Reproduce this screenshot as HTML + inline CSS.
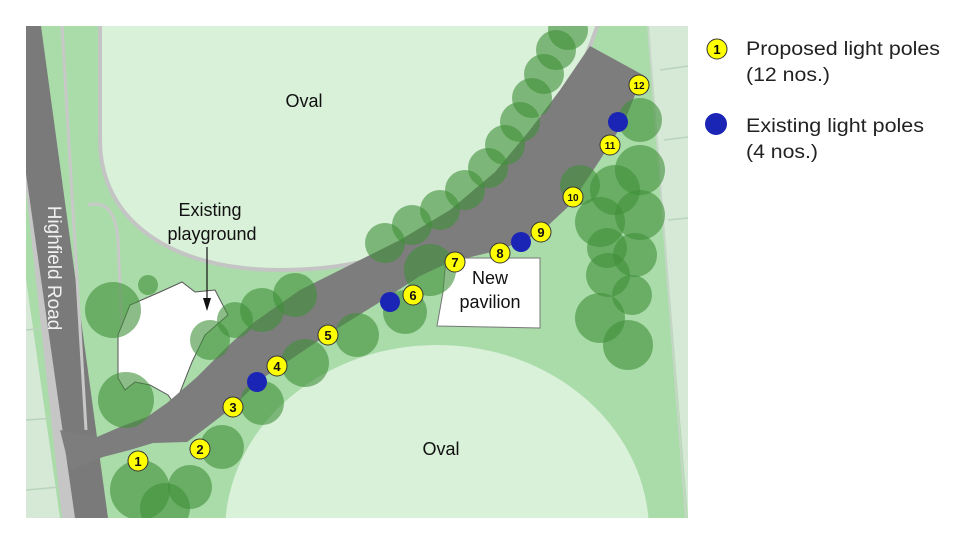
<!DOCTYPE html>
<html style="overflow:hidden;height:540px"><head><meta charset="utf-8"><style>
html,body{margin:0;padding:0}
body{background:#fff;width:960px;height:540px;overflow:hidden;font-family:"Liberation Sans",sans-serif}
svg{display:block}
</style></head><body>
<svg width="960" height="540" viewBox="0 0 960 540" xmlns="http://www.w3.org/2000/svg" font-family="Liberation Sans, sans-serif">
<defs><clipPath id="c"><rect x="26" y="26" width="662" height="492"/></clipPath></defs>
<g clip-path="url(#c)">
<rect x="26" y="26" width="662" height="492" fill="#aadcaa"/>
<polygon points="-20,26 -10,26 60,518 -20,518" fill="#d5e9d6"/>
<g stroke="#b9d4ba" stroke-width="1.5"><line x1="26" y1="330" x2="45" y2="328"/><line x1="26" y1="420" x2="55" y2="418"/><line x1="26" y1="490" x2="60" y2="487"/></g>
<polygon points="648,26 700,26 700,518 688,518" fill="#d5e9d6"/>
<line x1="648" y1="26" x2="686" y2="518" stroke="#c6d6c6" stroke-width="2"/>
<g stroke="#b9d4ba" stroke-width="1.5"><line x1="660" y1="70" x2="688" y2="66"/><line x1="664" y1="140" x2="688" y2="137"/><line x1="668" y1="220" x2="688" y2="218"/></g>
<polygon points="-10,26 8,26 62,518 75,518 30,180" fill="#c6c6c6"/>
<polygon points="5,26 41,26 108,518 75,518" fill="#7a7a7a"/>
<path d="M62,26 L86,430" stroke="#c8c8c8" stroke-width="3" fill="none"/>
<path d="M88,205 C108,200 116,215 118,240 L122,330" stroke="#c8c8c8" stroke-width="3" fill="none"/>
<path d="M100,18 L100,140 C100,220 170,270 280,270 C330,270 370,262 400,250 L450,225 C520,180 570,110 600,18 Z" fill="#d9f0d9" stroke="#c4c4c4" stroke-width="4"/>
<ellipse cx="437" cy="532" rx="212" ry="187" fill="#d9f0d9"/>
<path d="M118,335 L130,305 L160,292 L182,282 L195,292 L215,290 L228,315 L205,335 L192,362 L175,405 L168,395 L150,385 L135,382 L125,390 L118,378 Z" fill="#fff" stroke="#555" stroke-width="1"/>
<path d="M60,430 L97,437 L120,427 L147,417 L167,403 L197,377 L227,347 L253,323 L300,290 L360,260 L400,240 L450,210 L495,172 L530,130 L560,90 L590,46 L643,75 L625,120 L600,160 L570,205 L540,233 L500,250 L450,262 L420,276 L380,302 L330,333 L260,380 L233,407 L207,427 L187,442 L153,443 L130,450 L103,457 L70,470 Z" fill="#7d7d7d"/>
<polygon points="446,258 540,258 540,328 437,326 443,292" fill="#fff" stroke="#777" stroke-width="1"/>
<g fill="#3f8f38" fill-opacity="0.6">
<circle cx="140" cy="490" r="30"/><circle cx="190" cy="487" r="22"/><circle cx="165" cy="508" r="25"/>
<circle cx="222" cy="447" r="22"/><circle cx="262" cy="403" r="22"/><circle cx="305" cy="363" r="24"/>
<circle cx="357" cy="335" r="22"/><circle cx="405" cy="312" r="22"/><circle cx="430" cy="270" r="26"/>
<circle cx="113" cy="310" r="28"/><circle cx="126" cy="400" r="28"/><circle cx="148" cy="285" r="10"/>
<circle cx="210" cy="340" r="20"/><circle cx="235" cy="320" r="18"/><circle cx="262" cy="310" r="22"/><circle cx="295" cy="295" r="22"/>
<circle cx="385" cy="243" r="20"/><circle cx="412" cy="225" r="20"/><circle cx="440" cy="210" r="20"/><circle cx="465" cy="190" r="20"/><circle cx="488" cy="168" r="20"/><circle cx="505" cy="145" r="20"/><circle cx="520" cy="122" r="20"/><circle cx="532" cy="98" r="20"/><circle cx="544" cy="74" r="20"/><circle cx="556" cy="50" r="20"/><circle cx="568" cy="30" r="20"/>
<circle cx="580" cy="185" r="20"/><circle cx="600" cy="222" r="25"/><circle cx="640" cy="215" r="25"/><circle cx="635" cy="255" r="22"/><circle cx="608" cy="275" r="22"/><circle cx="600" cy="318" r="25"/><circle cx="628" cy="345" r="25"/><circle cx="640" cy="120" r="22"/><circle cx="640" cy="170" r="25"/><circle cx="615" cy="190" r="25"/><circle cx="632" cy="295" r="20"/><circle cx="607" cy="248" r="20"/>
</g>
<g font-size="18" fill="#111" text-anchor="middle">
<text x="304" y="107">Oval</text><text x="441" y="455">Oval</text>
<text x="210" y="216">Existing</text><text x="212" y="240">playground</text>
<text x="490" y="284">New</text><text x="490" y="308">pavilion</text>
</g>
<line x1="207" y1="247" x2="207" y2="300" stroke="#111" stroke-width="1.2"/>
<polygon points="203,298 211,298 207,311" fill="#111"/>
<text transform="translate(48,268) rotate(90)" font-size="19" fill="#f0f0f0" text-anchor="middle">Highfield Road</text>
<g fill="#1a25b5"><circle cx="257" cy="382" r="10"/><circle cx="390" cy="302" r="10"/><circle cx="521" cy="242" r="10"/><circle cx="618" cy="122" r="10"/></g>
<g fill="#ffff00" stroke="#333" stroke-width="1">
<circle cx="138" cy="461" r="10"/><circle cx="200" cy="449" r="10"/><circle cx="233" cy="407" r="10"/><circle cx="277" cy="366" r="10"/><circle cx="328" cy="335" r="10"/><circle cx="413" cy="295" r="10"/><circle cx="455" cy="262" r="10"/><circle cx="500" cy="253" r="10"/><circle cx="541" cy="232" r="10"/><circle cx="573" cy="197" r="10"/><circle cx="610" cy="145" r="10"/><circle cx="639" cy="85" r="10"/>
</g>
<g font-size="13" font-weight="bold" fill="#111" text-anchor="middle">
<text x="138" y="466">1</text><text x="200" y="454">2</text><text x="233" y="412">3</text><text x="277" y="371">4</text><text x="328" y="340">5</text><text x="413" y="300">6</text><text x="455" y="267">7</text><text x="500" y="258">8</text><text x="541" y="237">9</text><text x="573" y="201" font-size="10">10</text><text x="610" y="149" font-size="10">11</text><text x="639" y="89" font-size="10">12</text>
</g>
</g>
<circle cx="717" cy="49" r="10" fill="#ffff00" stroke="#333"/>
<text x="717" y="54" font-size="13" font-weight="bold" text-anchor="middle">1</text>
<circle cx="716" cy="124" r="11" fill="#1a25b5"/>
<g font-size="19" fill="#222">
<text x="746" y="55" textLength="194" lengthAdjust="spacingAndGlyphs">Proposed light poles</text><text x="746" y="81" textLength="84" lengthAdjust="spacingAndGlyphs">(12 nos.)</text>
<text x="746" y="132" textLength="178" lengthAdjust="spacingAndGlyphs">Existing light poles</text><text x="746" y="158" textLength="72" lengthAdjust="spacingAndGlyphs">(4 nos.)</text>
</g>
</svg>
</body></html>
